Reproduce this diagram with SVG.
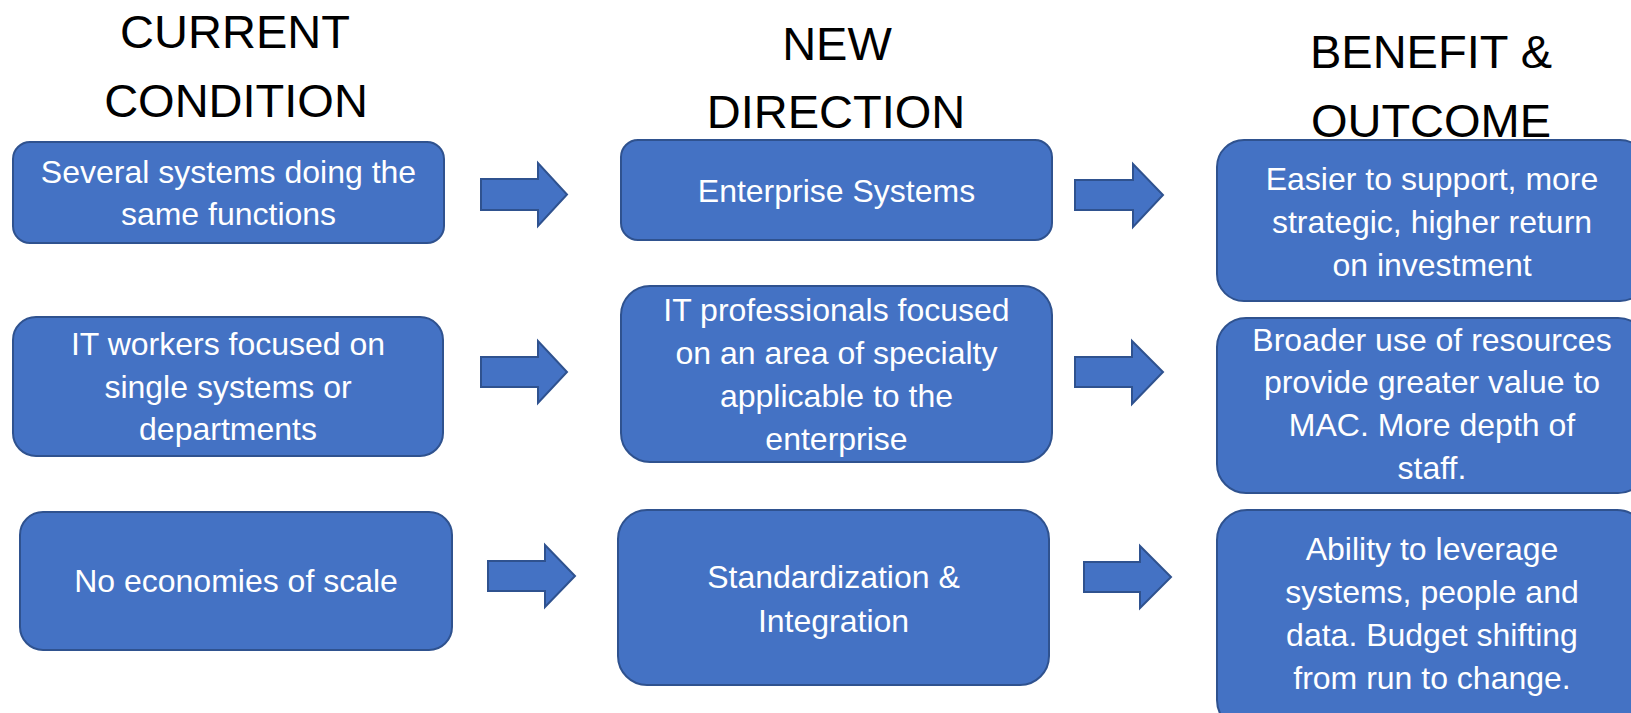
<svg xmlns="http://www.w3.org/2000/svg" width="1631" height="713" viewBox="0 0 1631 713">
<style>
.h{font-family:"Liberation Sans",Arial,sans-serif;font-size:47px;fill:#000;text-anchor:middle}
.box{fill:#4472C4;stroke:#2F528F;stroke-width:2}
.t{font-family:"Liberation Sans",Arial,sans-serif;font-size:32px;fill:#fff;text-anchor:middle}
.arr{fill:#4472C4;stroke:#2F528F;stroke-width:2;stroke-linejoin:miter}
</style>
<rect width="1631" height="713" fill="#fff"/>
<g id="headings">
<text class="h" x="235" y="48">CURRENT</text>
<text class="h" x="236" y="117">CONDITION</text>
<text class="h" x="837" y="60">NEW</text>
<text class="h" x="836" y="128">DIRECTION</text>
<text class="h" x="1431" y="68">BENEFIT &amp;</text>
<text class="h" x="1431" y="137">OUTCOME</text>
</g>
<g id="connectors">
<polygon class="arr" points="481,179 538,179 538,163 567,194.5 538,226 538,210 481,210"/>
<polygon class="arr" points="1075,180 1133,180 1133,164 1163,195 1133,227 1133,210 1075,210"/>
<polygon class="arr" points="481,357 538,357 538,341 567,372 538,403 538,387 481,387"/>
<polygon class="arr" points="1075,357 1132,357 1132,341 1163,372 1132,404 1132,387 1075,387"/>
<polygon class="arr" points="488,561 545,561 545,545 575,576 545,607 545,591 488,591"/>
<polygon class="arr" points="1084,562 1140,562 1140,546 1171,577 1140,608 1140,592 1084,592"/>
</g>
<g id="n1">
<rect class="box" x="13" y="142" width="431" height="101" rx="17"/>
<text class="t" x="228.5" y="183">Several systems doing the</text>
<text class="t" x="228.5" y="225">same functions</text>
</g>
<g id="n2">
<rect class="box" x="621" y="140" width="431" height="100" rx="17"/>
<text class="t" x="836.5" y="202">Enterprise Systems</text>
</g>
<g id="n3">
<rect class="box" x="1217" y="140" width="430" height="161" rx="27"/>
<text class="t" x="1432" y="190">Easier to support, more</text>
<text class="t" x="1432" y="233">strategic, higher return</text>
<text class="t" x="1432" y="276">on investment</text>
</g>
<g id="n4">
<rect class="box" x="13" y="317" width="430" height="139" rx="23"/>
<text class="t" x="228" y="355">IT workers focused on</text>
<text class="t" x="228" y="398">single systems or</text>
<text class="t" x="228" y="440">departments</text>
</g>
<g id="n5">
<rect class="box" x="621" y="286" width="431" height="176" rx="29"/>
<text class="t" x="836.5" y="321">IT professionals focused</text>
<text class="t" x="836.5" y="364">on an area of specialty</text>
<text class="t" x="836.5" y="407">applicable to the</text>
<text class="t" x="836.5" y="450">enterprise</text>
</g>
<g id="n6">
<rect class="box" x="1217" y="318" width="430" height="175" rx="29"/>
<text class="t" x="1432" y="351">Broader use of resources</text>
<text class="t" x="1432" y="393">provide greater value to</text>
<text class="t" x="1432" y="436">MAC. More depth of</text>
<text class="t" x="1432" y="479">staff.</text>
</g>
<g id="n7">
<rect class="box" x="20" y="512" width="432" height="138" rx="23"/>
<text class="t" x="236" y="592">No economies of scale</text>
</g>
<g id="n8">
<rect class="box" x="618" y="510" width="431" height="175" rx="29"/>
<text class="t" x="833.5" y="588">Standardization &amp;</text>
<text class="t" x="833.5" y="632">Integration</text>
</g>
<g id="n9">
<rect class="box" x="1217" y="510" width="430" height="220" rx="30"/>
<text class="t" x="1432" y="560">Ability to leverage</text>
<text class="t" x="1432" y="603">systems, people and</text>
<text class="t" x="1432" y="646">data. Budget shifting</text>
<text class="t" x="1432" y="689">from run to change.</text>
</g>
</svg>
